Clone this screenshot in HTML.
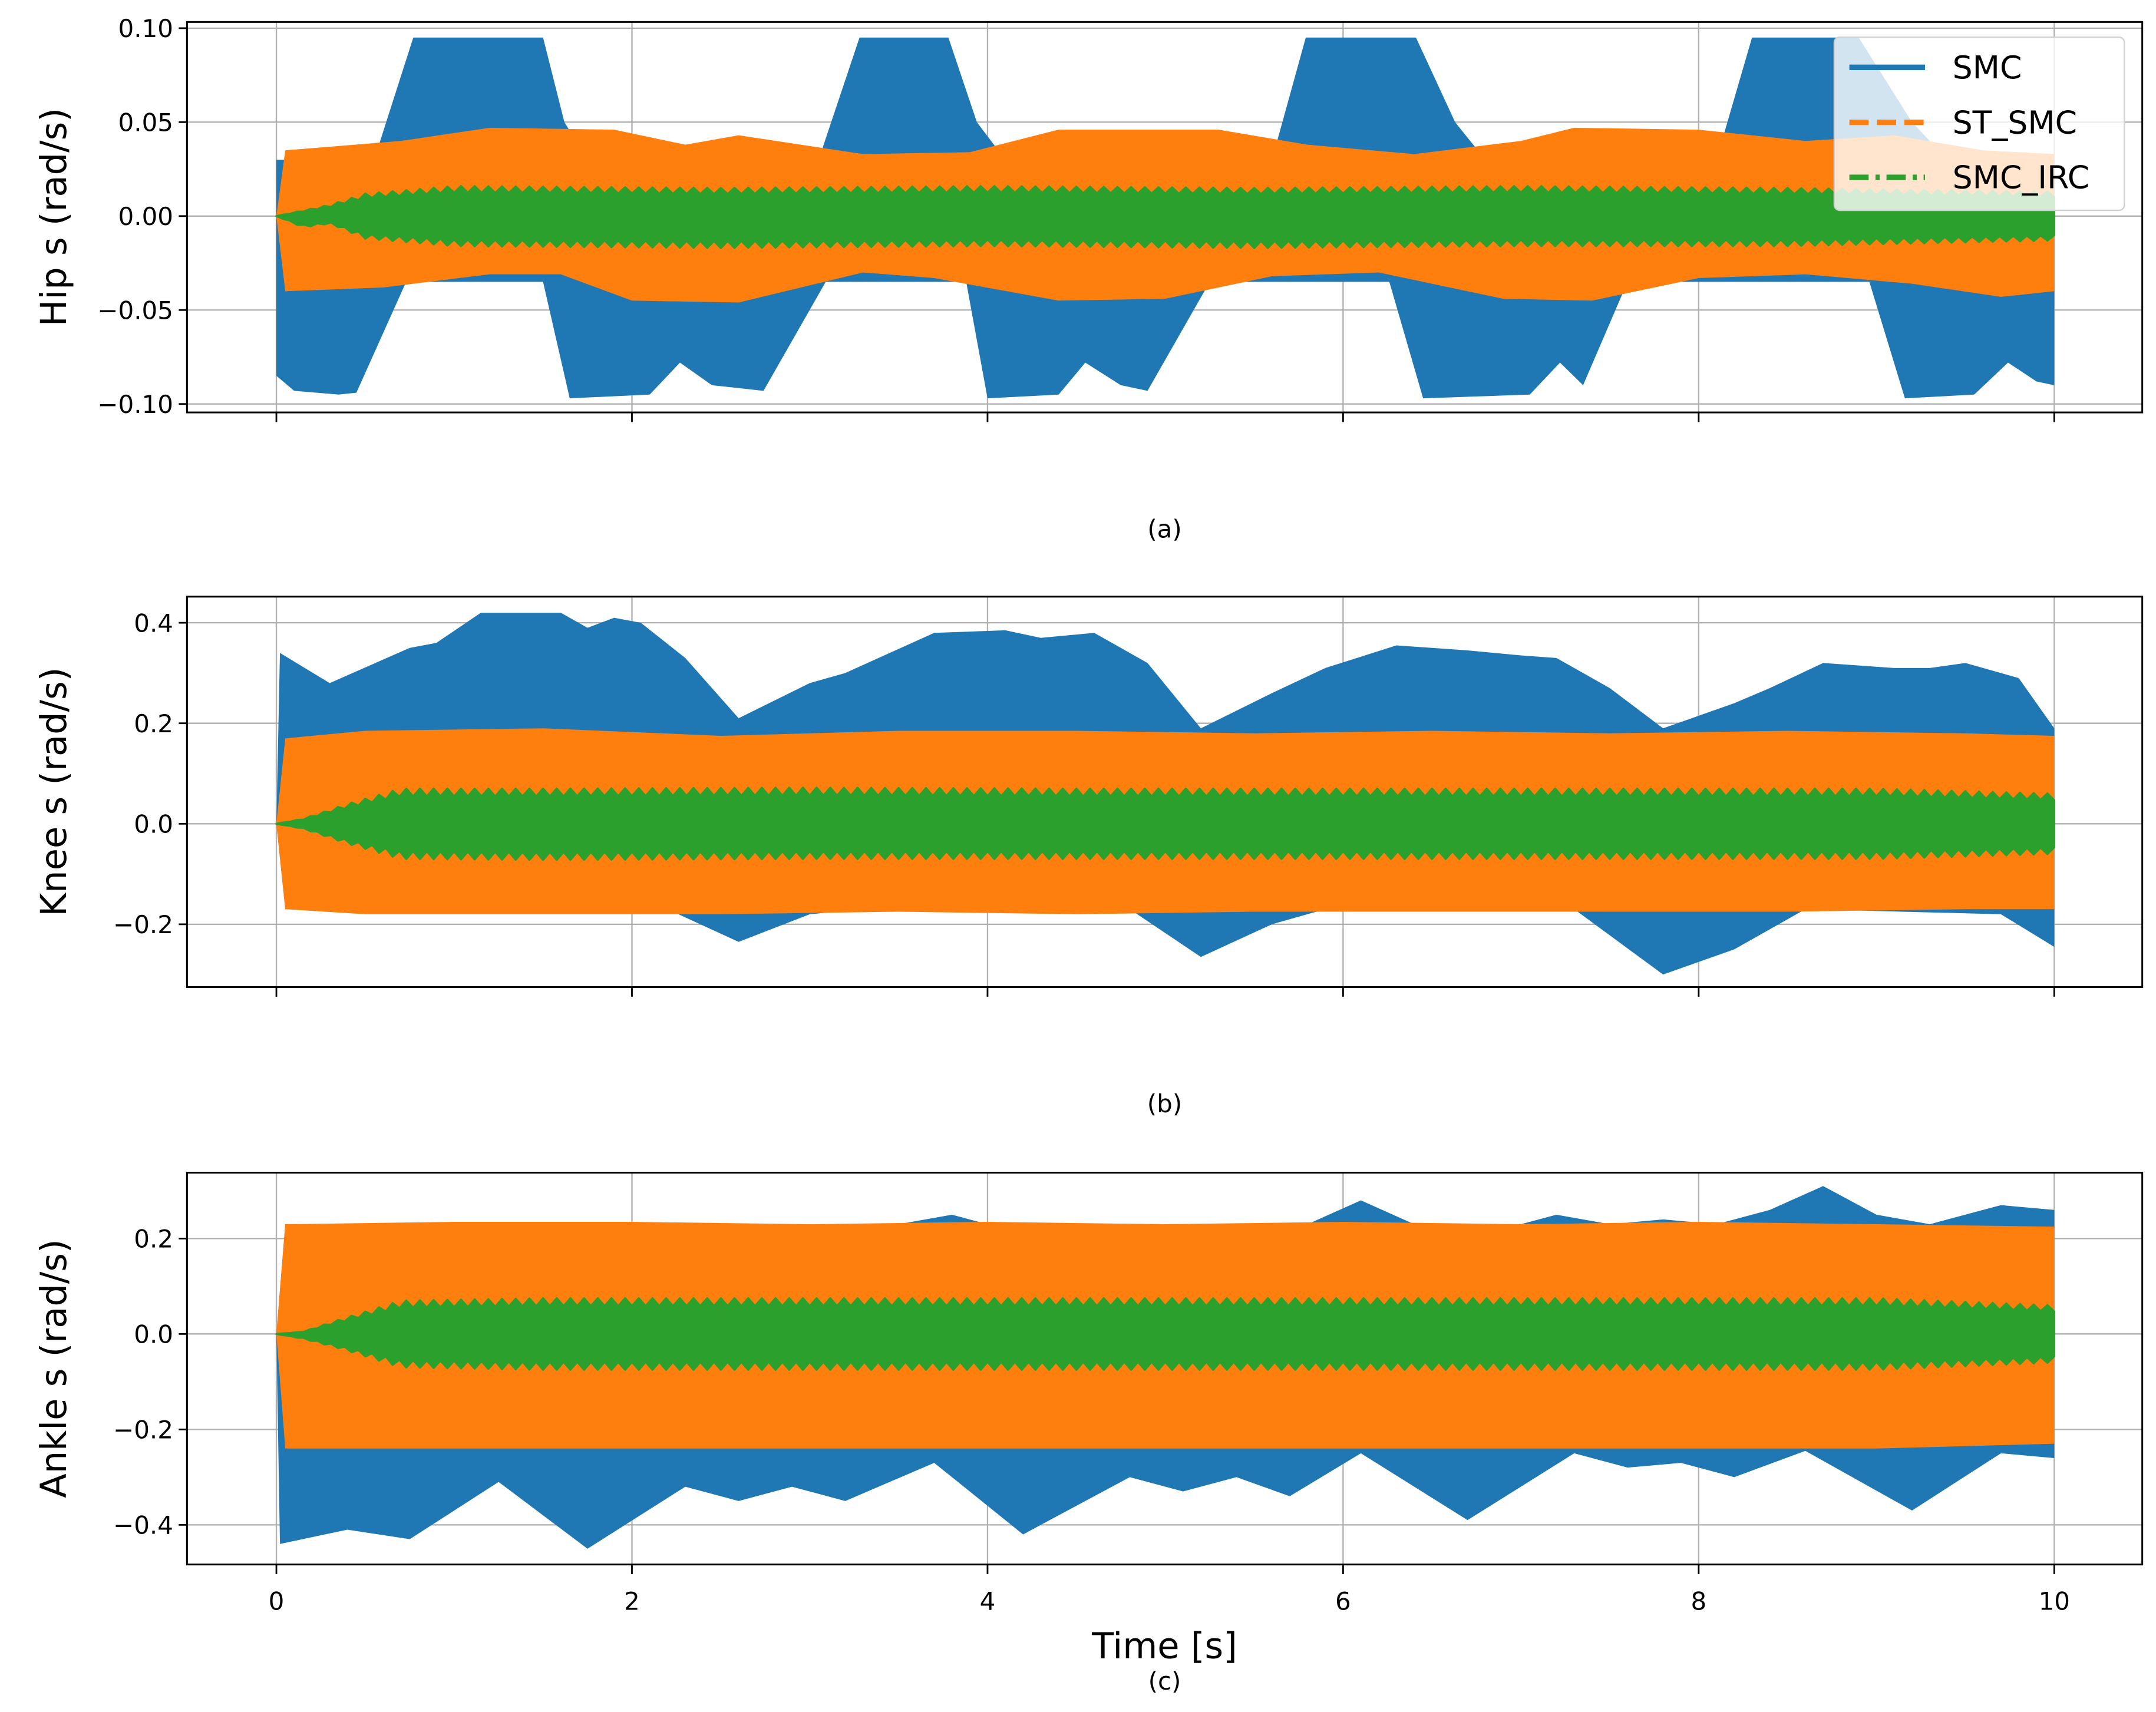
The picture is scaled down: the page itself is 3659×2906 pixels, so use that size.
<!DOCTYPE html>
<html><head><meta charset="utf-8"><style>
html,body{margin:0;padding:0;background:#fff;}
svg{display:block;}
text{font-family:"DejaVu Sans","Liberation Sans",sans-serif;fill:#000;}
</style></head><body>
<svg id="chart" width="3659" height="2906" viewBox="0 0 1568 1245.3" preserveAspectRatio="none" xmlns="http://www.w3.org/2000/svg"></svg>
<script>
// ---- data ----
const xTicks = [0, 2, 4, 6, 8, 10];
const seriesNames = ["SMC", "ST_SMC", "SMC_IRC"];
const panelLabels = ["(a)", "(b)", "(c)"];
const yTitles = ["Hip s (rad/s)", "Knee s (rad/s)", "Ankle s (rad/s)"];
const yTicksA = [0.10, 0.05, 0.00, -0.05, -0.10];
const yTickLabelsA = ["0.10", "0.05", "0.00", "\u22120.05", "\u22120.10"];
const yTicksB = [0.4, 0.2, 0.0, -0.2];
const yTickLabelsB = ["0.4", "0.2", "0.0", "\u22120.2"];
const yTicksC = [0.2, 0.0, -0.2, -0.4];
const yTickLabelsC = ["0.2", "0.0", "\u22120.2", "\u22120.4"];

// Panel (a) hip envelopes
const tA_smcU = [0, 0.55, 0.77, 1.5, 1.62, 1.75, 3.05, 3.28, 3.78, 3.94, 4.1, 5.6, 5.79, 6.41, 6.63, 6.8, 8.1, 8.3, 8.9, 9.2, 9.4, 10];
const vA_smcU = [0.03, 0.03, 0.095, 0.095, 0.05, 0.03, 0.03, 0.095, 0.095, 0.05, 0.03, 0.03, 0.095, 0.095, 0.05, 0.03, 0.03, 0.095, 0.095, 0.05, 0.03, 0.03];
const tA_smcL = [0, 0.1, 0.35, 0.45, 0.73, 1.5, 1.65, 2.1, 2.27, 2.45, 2.74, 3.09, 3.88, 4.0, 4.4, 4.55, 4.75, 4.9, 5.25, 6.26, 6.45, 7.05, 7.22, 7.35, 7.6, 8.96, 9.16, 9.55, 9.74, 9.9, 10];
const vA_smcL = [-0.085, -0.093, -0.095, -0.094, -0.035, -0.035, -0.097, -0.095, -0.078, -0.09, -0.093, -0.035, -0.035, -0.097, -0.095, -0.078, -0.09, -0.093, -0.035, -0.035, -0.097, -0.095, -0.078, -0.09, -0.035, -0.035, -0.097, -0.095, -0.078, -0.088, -0.09];
const tA_stU = [0, 0.05, 0.7, 1.2, 1.9, 2.3, 2.6, 3.3, 3.9, 4.4, 5.3, 5.8, 6.4, 7.0, 7.3, 8.0, 8.6, 9.1, 9.6, 10];
const vA_stU = [0.0, 0.035, 0.04, 0.047, 0.046, 0.038, 0.043, 0.033, 0.034, 0.046, 0.046, 0.038, 0.033, 0.04, 0.047, 0.046, 0.04, 0.043, 0.035, 0.033];
const tA_stL = [0, 0.05, 0.6, 1.2, 1.6, 2.0, 2.6, 3.3, 3.7, 4.4, 5.0, 5.6, 6.2, 6.9, 7.4, 8.0, 8.6, 9.2, 9.7, 10];
const vA_stL = [0.0, -0.04, -0.038, -0.031, -0.031, -0.045, -0.046, -0.03, -0.033, -0.045, -0.044, -0.032, -0.03, -0.044, -0.045, -0.033, -0.031, -0.036, -0.043, -0.04];
const tA_irU = [0, 0.15, 0.3, 0.5, 1.0, 2.5, 4.0, 5.5, 7.0, 8.5, 10];
const vA_irU = [0.0, 0.003, 0.006, 0.012, 0.016, 0.015, 0.016, 0.015, 0.016, 0.015, 0.013];
const vA_irL = [0.0, -0.006, -0.004, -0.012, -0.016, -0.017, -0.016, -0.017, -0.016, -0.016, -0.013];

// Panel (b) knee envelopes
const tB_smcU = [0, 0.02, 0.3, 0.75, 0.9, 1.15, 1.6, 1.75, 1.9, 2.05, 2.3, 2.6, 3.0, 3.2, 3.7, 4.1, 4.3, 4.6, 4.9, 5.2, 5.6, 5.9, 6.3, 6.7, 7.0, 7.2, 7.5, 7.8, 8.2, 8.4, 8.7, 9.1, 9.3, 9.5, 9.8, 10];
const vB_smcU = [0.0, 0.34, 0.28, 0.35, 0.36, 0.42, 0.42, 0.39, 0.41, 0.40, 0.33, 0.21, 0.28, 0.30, 0.38, 0.385, 0.37, 0.38, 0.32, 0.19, 0.26, 0.31, 0.355, 0.345, 0.335, 0.33, 0.27, 0.19, 0.24, 0.27, 0.32, 0.31, 0.31, 0.32, 0.29, 0.19];
const tB_smcL = [0, 0.05, 2.2, 2.6, 3.0, 3.3, 4.8, 5.2, 5.6, 5.9, 7.3, 7.8, 8.2, 8.6, 9.7, 10];
const vB_smcL = [0.0, -0.17, -0.17, -0.235, -0.18, -0.17, -0.17, -0.265, -0.2, -0.17, -0.17, -0.3, -0.25, -0.17, -0.18, -0.245];
const tB_stU = [0, 0.05, 0.5, 1.5, 2.5, 3.5, 4.5, 5.5, 6.5, 7.5, 8.5, 9.5, 10];
const vB_stU = [0.0, 0.17, 0.185, 0.19, 0.175, 0.185, 0.185, 0.18, 0.185, 0.18, 0.185, 0.18, 0.175];
const vB_stL = [0.0, -0.17, -0.18, -0.18, -0.18, -0.175, -0.18, -0.175, -0.175, -0.175, -0.175, -0.17, -0.17];
const tB_irU = [0, 0.15, 0.4, 0.7, 1.5, 3.0, 4.5, 6.0, 7.5, 9.0, 10];
const vB_irU = [0.0, 0.01, 0.04, 0.07, 0.07, 0.072, 0.07, 0.07, 0.07, 0.07, 0.06];
const vB_irL = [0.0, -0.01, -0.04, -0.07, -0.072, -0.07, -0.07, -0.07, -0.07, -0.07, -0.06];

// Panel (c) ankle envelopes
const tC_smcU = [0, 0.05, 3.5, 3.8, 4.0, 5.8, 6.1, 6.4, 7.0, 7.2, 7.5, 7.8, 8.1, 8.4, 8.7, 9.0, 9.3, 9.7, 10];
const vC_smcU = [0.0, 0.23, 0.23, 0.25, 0.23, 0.23, 0.28, 0.23, 0.23, 0.25, 0.23, 0.24, 0.23, 0.26, 0.31, 0.25, 0.23, 0.27, 0.26];
const tC_smcL = [0, 0.02, 0.4, 0.75, 1.25, 1.75, 2.3, 2.6, 2.9, 3.2, 3.7, 4.2, 4.8, 5.1, 5.4, 5.7, 6.1, 6.7, 7.3, 7.6, 7.9, 8.2, 8.6, 9.2, 9.7, 10];
const vC_smcL = [0.0, -0.44, -0.41, -0.43, -0.31, -0.45, -0.32, -0.35, -0.32, -0.35, -0.27, -0.42, -0.3, -0.33, -0.3, -0.34, -0.25, -0.39, -0.25, -0.28, -0.27, -0.3, -0.245, -0.37, -0.25, -0.26];
const tC_stU = [0, 0.05, 1.0, 2.0, 3.0, 4.0, 5.0, 6.0, 7.0, 8.0, 9.0, 10];
const vC_stU = [0.0, 0.23, 0.235, 0.235, 0.23, 0.235, 0.23, 0.235, 0.23, 0.235, 0.23, 0.225];
const vC_stL = [0.0, -0.24, -0.24, -0.24, -0.24, -0.24, -0.24, -0.24, -0.24, -0.24, -0.24, -0.23];
const tC_irU = [0, 0.15, 0.35, 0.7, 1.5, 3.0, 4.5, 6.0, 7.5, 9.0, 10];
const vC_irU = [0.0, 0.005, 0.03, 0.07, 0.075, 0.075, 0.075, 0.075, 0.075, 0.075, 0.06];
const vC_irL = [0.0, -0.01, -0.03, -0.07, -0.075, -0.075, -0.075, -0.075, -0.075, -0.075, -0.06];

// ---- drawing ----
const NS = "http://www.w3.org/2000/svg";
const svg = document.getElementById("chart");
const COLORS = ["#1f77b4", "#ff7f0e", "#2ca02c"];
const X0 = 136, X1 = 1558;
function xScale(t){ return 201 + t * (1494 - 201) / 10; }
function mk(tag, attrs, parent){
  const e = document.createElementNS(NS, tag);
  for (const k in attrs) e.setAttribute(k, attrs[k]);
  (parent || svg).appendChild(e);
  return e;
}
function interp(ts, vs, t){
  if (t <= ts[0]) return vs[0];
  for (let i = 1; i < ts.length; i++){
    if (t <= ts[i]){ const f = (t - ts[i-1]) / (ts[i] - ts[i-1]); return vs[i-1] + f * (vs[i] - vs[i-1]); }
  }
  return vs[vs.length - 1];
}
function bandPath(tU, vU, tL, vL, yS){
  let d = "";
  tU.forEach((t, i) => { d += (i ? "L" : "M") + xScale(t).toFixed(2) + "," + yS(vU[i]).toFixed(2); });
  for (let i = tL.length - 1; i >= 0; i--) d += "L" + xScale(tL[i]).toFixed(2) + "," + yS(vL[i]).toFixed(2);
  return d + "Z";
}
function jaggedBand(ts, vU, vL, yS){
  let up = "", lo = [];
  const n = 260;
  for (let i = 0; i <= n; i++){
    const t = 10 * i / n;
    const k = (i % 2) ? 1 : 0.78;
    const u = interp(ts, vU, t) * k, l = interp(ts, vL, t) * k;
    up += (i ? "L" : "M") + xScale(t).toFixed(2) + "," + yS(u).toFixed(2);
    lo.push("L" + xScale(t).toFixed(2) + "," + yS(l).toFixed(2));
  }
  return up + lo.reverse().join("") + "Z";
}

const panels = [
  {top:16, bot:300, yMin:-0.1045, yMax:0.1033, ticks:yTicksA, labels:yTickLabelsA, name:"hip",
   smc:[tA_smcU, vA_smcU, tA_smcL, vA_smcL], st:[tA_stU, vA_stU, tA_stL, vA_stL], ir:[tA_irU, vA_irU, vA_irL], labelY:384},
  {top:434, bot:718, yMin:-0.325, yMax:0.452, ticks:yTicksB, labels:yTickLabelsB, name:"knee",
   smc:[tB_smcU, vB_smcU, tB_smcL, vB_smcL], st:[tB_stU, vB_stU, tB_stU, vB_stL], ir:[tB_irU, vB_irU, vB_irL], labelY:802},
  {top:853, bot:1138, yMin:-0.483, yMax:0.338, ticks:yTicksC, labels:yTickLabelsC, name:"ankle",
   smc:[tC_smcU, vC_smcU, tC_smcL, vC_smcL], st:[tC_stU, vC_stU, tC_stU, vC_stL], ir:[tC_irU, vC_irU, vC_irL], labelY:1222}
];

panels.forEach((p, pi) => {
  const g = mk("g", {});
  
  
  const yS = v => p.bot - (v - p.yMin) / (p.yMax - p.yMin) * (p.bot - p.top);
  xTicks.forEach(t => {
    const l = mk("line", {x1:xScale(t), x2:xScale(t), y1:p.top, y2:p.bot, stroke:"#b0b0b0", "stroke-width":1}, g);
    
    
  });
  p.ticks.forEach(v => {
    const l = mk("line", {x1:X0, x2:X1, y1:yS(v), y2:yS(v), stroke:"#b0b0b0", "stroke-width":1}, g);
    
    
  });
  const s1 = mk("path", {d:bandPath(p.smc[0], p.smc[1], p.smc[2], p.smc[3], yS), fill:COLORS[0]}, g);
  
  
  const s2 = mk("path", {d:bandPath(p.st[0], p.st[1], p.st[2], p.st[3], yS), fill:COLORS[1]}, g);
  
  
  const s3 = mk("path", {d:jaggedBand(p.ir[0], p.ir[1], p.ir[2], yS), fill:COLORS[2], stroke:COLORS[2], "stroke-width":1.5, "stroke-linejoin":"round"}, g);
  
  
  const fr = mk("rect", {x:X0, y:p.top, width:X1 - X0, height:p.bot - p.top, fill:"none", stroke:"#000", "stroke-width":1.3}, g);
  
  
  xTicks.forEach(t => {
    const l = mk("line", {x1:xScale(t), x2:xScale(t), y1:p.bot, y2:p.bot + 7, stroke:"#000", "stroke-width":1.2}, g);
    
    
    if (pi === 2){
      const tx = mk("text", {x:xScale(t), y:p.bot + 33, "text-anchor":"middle", "font-size":18}, g);
      tx.textContent = String(t);
      
      
    }
  });
  p.ticks.forEach((v, i) => {
    const l = mk("line", {x1:X0 - 6, x2:X0, y1:yS(v), y2:yS(v), stroke:"#000", "stroke-width":1.2}, g);
    
    
    const tx = mk("text", {x:X0 - 10, y:yS(v) + 6.5, "text-anchor":"end", "font-size":18}, g);
    tx.textContent = p.labels[i];
    
    
  });
  const yc = (p.top + p.bot) / 2;
  const yt = mk("text", {x:0, y:0, transform:"translate(48," + yc + ") rotate(-90)", "text-anchor":"middle", "font-size":26}, g);
  yt.textContent = yTitles[pi];
  
  
  const pl = mk("text", {x:847, y:p.labelY + 7, "text-anchor":"middle", "font-size":18}, g);
  pl.textContent = panelLabels[pi];
  
  
});

const xt = mk("text", {x:847, y:1206, "text-anchor":"middle", "font-size":26});
xt.textContent = "Time [s]";



const lg = mk("g", {});


const lb = mk("rect", {x:1334, y:27, width:211, height:126, rx:4, fill:"rgba(255,255,255,0.8)", stroke:"#d0d0d0", "stroke-width":1}, lg);


const dashes = ["none", "14,6", "14,5,3,5"];
seriesNames.forEach((n, i) => {
  const y = 49 + i * 40;
  const l = mk("line", {x1:1345, x2:1400, y1:y, y2:y, stroke:COLORS[i], "stroke-width":4, "stroke-dasharray":dashes[i]}, lg);
  
  
  const t = mk("text", {x:1420, y:y + 8, "font-size":23}, lg);
  t.textContent = n;
  
  
});
</script>
</body></html>
